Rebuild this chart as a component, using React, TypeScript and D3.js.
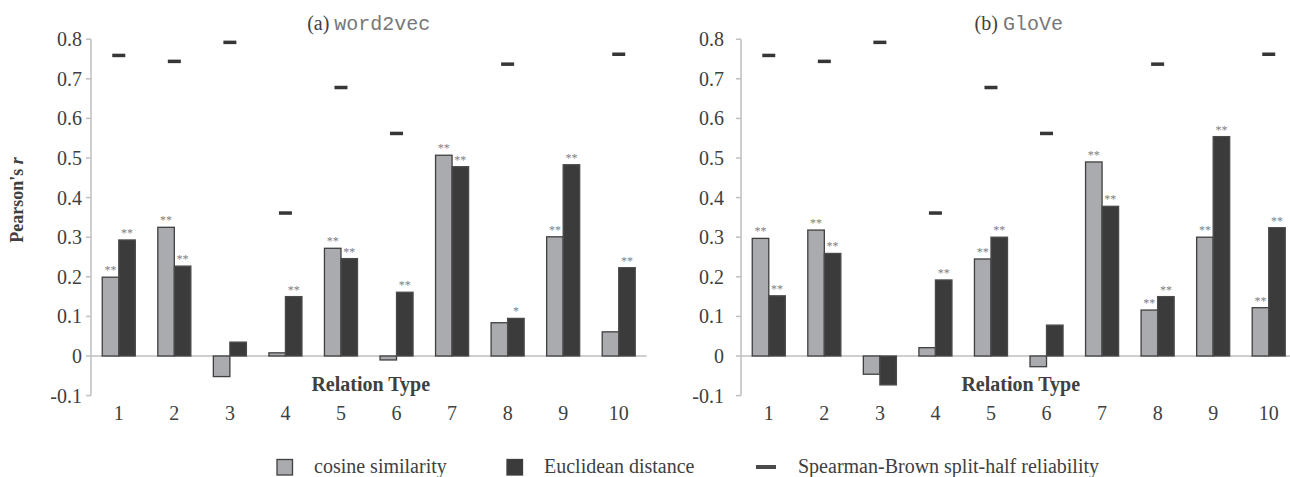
import React, { useEffect, useRef } from 'react';
import * as d3 from 'd3';

// Relation types on the x axis
const categories = ['1', '2', '3', '4', '5', '6', '7', '8', '9', '10'];
const yTicks = [-0.1, 0, 0.1, 0.2, 0.3, 0.4, 0.5, 0.6, 0.7, 0.8];

// (a) word2vec
const w2vCosine = [0.199, 0.325, -0.052, 0.008, 0.272, -0.01, 0.507, 0.084, 0.301, 0.061];
const w2vEuclid = [0.293, 0.227, 0.035, 0.15, 0.246, 0.161, 0.478, 0.095, 0.483, 0.223];
const w2vCosineSig = ['**', '**', '', '', '**', '', '**', '', '**', ''];
const w2vEuclidSig = ['**', '**', '', '**', '**', '**', '**', '*', '**', '**'];

// (b) GloVe
const gloveCosine = [0.297, 0.318, -0.046, 0.021, 0.245, -0.027, 0.49, 0.116, 0.3, 0.122];
const gloveEuclid = [0.152, 0.259, -0.073, 0.192, 0.3, 0.078, 0.378, 0.15, 0.554, 0.324];
const gloveCosineSig = ['**', '**', '', '', '**', '', '**', '**', '**', '**'];
const gloveEuclidSig = ['**', '**', '', '**', '**', '', '**', '**', '**', '**'];

// Spearman-Brown split-half reliability (no marker for 7 and 9)
const reliability: (number | null)[] = [0.759, 0.744, 0.792, 0.361, 0.678, 0.562, null, 0.737, null, 0.762];

const seriesKeys = ['cosine', 'euclid'];

const SERIF = '"Liberation Serif", "Times New Roman", serif';
const MONO = '"Liberation Mono", "Courier New", monospace';
const LIGHT = '#aaabaf';
const DARK = '#3b3b3b';
const AXIS = '#bfbfbf';
const TEXT = '#404040';

const panels = [
  { prefix: '(a) ', name: 'word2vec', left: 91, labelGap: 9, cosine: w2vCosine, euclid: w2vEuclid, cSig: w2vCosineSig, eSig: w2vEuclidSig },
  { prefix: '(b) ', name: 'GloVe', left: 741, labelGap: 17, cosine: gloveCosine, euclid: gloveEuclid, cSig: gloveCosineSig, eSig: gloveEuclidSig },
];

export default function App() {
  const svgRef = useRef<SVGSVGElement>(null);

  useEffect(() => {
    if (!svgRef.current) return;
    const svg = d3.select(svgRef.current);
    svg.selectAll('*').remove();

    const plotW = 555.5;
    const y = d3.scaleLinear().domain([-0.1, 0.8]).range([395.6, 39.2]);

    panels.forEach(p => {
      const g = svg.append('g').attr('transform', `translate(${p.left},0)`);

      const x = d3.scaleBand<string>()
        .domain(categories)
        .range([0, plotW])
        .paddingInner(0.405)
        .paddingOuter(0.2025);
      const xs = d3.scaleBand<string>()
        .domain(seriesKeys)
        .range([0, x.bandwidth()]);

      // title
      const title = g.append('text')
        .attr('x', plotW / 2)
        .attr('y', 30)
        .attr('text-anchor', 'middle')
        .attr('font-size', 20)
        .attr('fill', TEXT)
        .attr('font-family', SERIF);
      title.append('tspan').text(p.prefix);
      title.append('tspan').attr('font-family', MONO).attr('fill', '#777777').text(p.name);

      // y axis
      g.append('line')
        .attr('x1', 0).attr('x2', 0)
        .attr('y1', y(0.8)).attr('y2', y(-0.1))
        .attr('stroke', AXIS).attr('stroke-width', 1.5);

      yTicks.forEach(t => {
        g.append('line')
          .attr('x1', -5).attr('x2', 0)
          .attr('y1', y(t)).attr('y2', y(t))
          .attr('stroke', AXIS).attr('stroke-width', 1.5);
        g.append('text')
          .attr('x', -p.labelGap)
          .attr('y', y(t) + 7)
          .attr('text-anchor', 'end')
          .attr('font-family', SERIF)
          .attr('font-size', 20)
          .attr('fill', TEXT)
          .text(t === 0 ? '0' : t.toFixed(1));
      });

      // zero line
      g.append('line')
        .attr('x1', 0).attr('x2', plotW)
        .attr('y1', y(0)).attr('y2', y(0))
        .attr('stroke', AXIS).attr('stroke-width', 1.5);

      // bars
      categories.forEach((c, i) => {
        const vals = [p.cosine[i], p.euclid[i]];
        const sigs = [p.cSig[i], p.eSig[i]];
        seriesKeys.forEach((k, j) => {
          const v = vals[j];
          const bx = x(c)! + xs(k)!;
          g.append('rect')
            .attr('x', bx)
            .attr('y', Math.min(y(v), y(0)))
            .attr('width', xs.bandwidth())
            .attr('height', Math.abs(y(v) - y(0)))
            .attr('fill', j === 0 ? LIGHT : DARK)
            .attr('stroke', j === 0 ? '#3f3f3f' : '#4a4a4a')
            .attr('stroke-width', 1.3);
          if (sigs[j]) {
            g.append('text')
              .attr('x', bx + xs.bandwidth() / 2)
              .attr('y', y(v) - 3)
              .attr('text-anchor', 'middle')
              .attr('font-family', SERIF)
              .attr('font-size', 12)
              .attr('fill', '#808080')
              .text(sigs[j]);
          }
        });

        const r = reliability[i];
        if (r !== null) {
          const cx = x(c)! + x.bandwidth() / 2;
          g.append('rect')
            .attr('x', cx - 6.5)
            .attr('y', y(r) - 1.75)
            .attr('width', 13)
            .attr('height', 3.5)
            .attr('fill', '#363636');
        }

        // category labels
        g.append('text')
          .attr('x', x(c)! + x.bandwidth() / 2)
          .attr('y', 420)
          .attr('text-anchor', 'middle')
          .attr('font-family', SERIF)
          .attr('font-size', 20)
          .attr('fill', TEXT)
          .text(c);
      });

      g.append('text')
        .attr('x', plotW / 2 + 2)
        .attr('y', 391)
        .attr('text-anchor', 'middle')
        .attr('font-family', SERIF)
        .attr('font-weight', 'bold')
        .attr('font-size', 20)
        .attr('fill', TEXT)
        .text('Relation Type');
    });

    // y axis title
    const yt = svg.append('text')
      .attr('transform', 'translate(23,200) rotate(-90)')
      .attr('text-anchor', 'middle')
      .attr('font-family', SERIF)
      .attr('font-weight', 'bold')
      .attr('font-size', 18)
      .attr('fill', TEXT);
    yt.append('tspan').text("Pearson's ");
    yt.append('tspan').attr('font-style', 'italic').text('r');

    // legend
    const legend = svg.append('g');
    const items = [
      { x: 277, label: 'cosine similarity', kind: 'light' },
      { x: 507, label: 'Euclidean distance', kind: 'dark' },
      { x: 756, label: 'Spearman-Brown split-half reliability', kind: 'dash' },
    ];
    items.forEach(it => {
      if (it.kind === 'dash') {
        legend.append('rect')
          .attr('x', it.x).attr('y', 465)
          .attr('width', 20).attr('height', 4)
          .attr('fill', '#4a4a4a');
      } else {
        legend.append('rect')
          .attr('x', it.x).attr('y', 459.5)
          .attr('width', 15.5).attr('height', 15.5)
          .attr('fill', it.kind === 'light' ? LIGHT : DARK)
          .attr('stroke', '#3f3f3f')
          .attr('stroke-width', 1.3);
      }
      legend.append('text')
        .attr('x', it.kind === 'dash' ? it.x + 42 : it.x + 37)
        .attr('y', 473)
        .attr('font-family', SERIF)
        .attr('font-size', 20)
        .attr('fill', TEXT)
        .text(it.label);
    });
  }, []);

  return (
    <svg
      ref={svgRef}
      width={1290}
      height={477}
      style={{ position: 'absolute', left: 0, top: 0, background: '#fff' }}
    />
  );
}
